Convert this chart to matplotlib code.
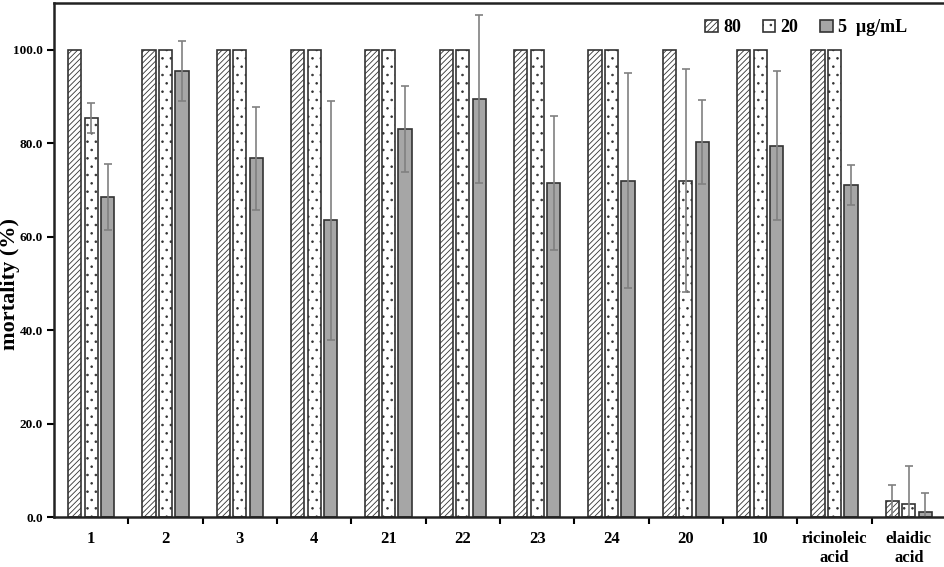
import matplotlib
matplotlib.use("Agg")
import matplotlib.pyplot as plt
import numpy as np

categories = ["1", "2", "3", "4", "21", "22", "23", "24", "20", "10", "ricinoleic\nacid", "elaidic\nacid"]
conc_labels = ["80", "20", "5  μg/mL"]
vals_80 = [100, 100, 100, 100, 100, 100, 100, 100, 100, 100, 100, 3.4]
err_80 = [0, 0, 0, 0, 0, 0, 0, 0, 0, 0, 0, 3.5]
vals_20 = [85.3, 100, 100, 100, 100, 100, 100, 100, 72.0, 100, 100, 2.8]
err_20 = [3.2, 0, 0, 0, 0, 0, 0, 0, 23.9, 0, 0, 8.1]
vals_5 = [68.5, 95.4, 76.8, 63.5, 83.0, 89.5, 71.5, 72.0, 80.3, 79.5, 71.0, 1.0]
err_5 = [7.0, 6.4, 11.0, 25.6, 9.2, 18.0, 14.3, 23.0, 9.0, 16.0, 4.3, 4.2]

plt.rcParams['font.family'] = ['Liberation Serif', 'DejaVu Serif']
plt.rcParams['hatch.linewidth'] = 0.6
plt.rcParams['hatch.color'] = '#555555'

fig = plt.figure(figsize=(9.45, 5.67), dpi=100)
ax = fig.add_axes([54/945, 1-517/567, 892/945, 514/567])

x = np.arange(len(categories))
w = 0.175
off = 0.222
edge = '#333333'
ekw = dict(ecolor='#808080', elinewidth=1.2, capsize=3, capthick=1.2)

series = [
    (vals_80, err_80, -off, dict(facecolor='white', hatch='//////')),
    (vals_20, err_20, 0, dict(facecolor='white', hatch='..')),
    (vals_5, err_5, off, dict(facecolor='#a6a6a6')),
]
handles = []
for (v, e, o, st), lab in zip(series, conc_labels):
    b = ax.bar(x + o, v, w, edgecolor=edge, linewidth=1.2, label=lab, **st)
    mask = np.array(e) > 0
    ax.errorbar((x + o)[mask], np.array(v)[mask], yerr=np.array(e)[mask], fmt='none', **ekw)
    handles.append(b)

ax.set_xlim(-0.5, len(categories) - 0.5)
ax.set_ylim(0, 110)
ax.set_yticks([0, 20, 40, 60, 80, 100])
ax.set_yticklabels(["0.0", "20.0", "40.0", "60.0", "80.0", "100.0"], fontsize=9.5, fontweight='bold')
ax.set_xticks(x)
ax.set_xticklabels(categories, fontsize=12, fontweight='bold', linespacing=1.3)
ax.tick_params(axis='x', which='major', length=0, pad=10)
ax.set_xticks(np.arange(len(categories)) + 0.5, minor=True)
ax.tick_params(axis='x', which='minor', length=5, width=1.5, direction='out')
ax.tick_params(axis='y', length=5, width=1.5, direction='out', pad=3)
for s in ax.spines.values():
    s.set_linewidth(1.8)
    s.set_color('#222222')

fig.text(0.0, 0.5, "mortality (%)", rotation=90, fontsize=16, fontweight='bold', va='center', ha='left')

leg = ax.legend(handles=handles, labels=conc_labels, ncol=3, loc='upper right',
                bbox_to_anchor=(0.975, 1.0), frameon=False,
                prop={'size': 13, 'weight': 'bold'}, handlelength=0.7, handleheight=0.7,
                handletextpad=0.3, columnspacing=1.2)

fig.savefig("out.png", dpi=100)
